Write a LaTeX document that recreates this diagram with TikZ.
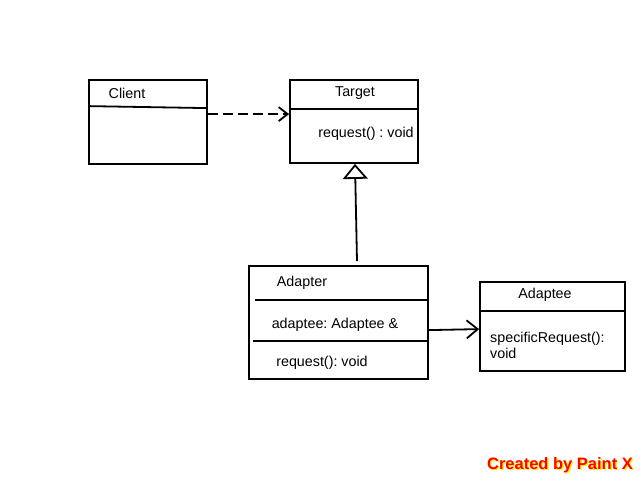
\documentclass[tikz,border=0pt]{standalone}
\usepackage{fontspec}
\setmainfont{Liberation Sans}
\usetikzlibrary{arrows.meta}
\frenchspacing
\begin{document}
\begin{tikzpicture}
            [
                x = 1pt, y = -1pt,
                every node/.style = {inner sep=0pt,
                font=\fontsize{14.3}{16.5}\selectfont},
                classbox/.style = {shape=rectangle, draw, line width=1.8pt},
                divider/.style  = {line width=1.8pt},
                depends/.style  = {line width=1.8pt, dash pattern=on 10pt off 5pt,
                -{Straight Barb[length=9pt, width=14pt]}},
                inherits/.style = {line width=1.8pt,
                -{Triangle[open, length=15pt, width=25pt]}},
                assoc/.style    = {line width=1.8pt,
                -{Straight Barb[length=11pt, width=18pt]}}
            ]
            \useasboundingbox (0,0) rectangle (640,480);
            % boxes
            \node [classbox, minimum width=118pt, minimum height=84pt] (client) at (148,122) {};
            \node [classbox, minimum width=128pt, minimum height=83pt] (target) at (354,121.5) {};
            \node [classbox, minimum width=179pt, minimum height=113pt] (adapter) at (338.5,322.5) {};
            \node [classbox, minimum width=145pt, minimum height=89pt] (adaptee) at (552.5,326.5) {};
            % compartments
            \draw [divider] ([yshift=-27pt]client.north west) -- ([yshift=-29pt]client.north east);
            \draw [divider] ([xshift=2pt, yshift=-30pt]target.north west) -- ([yshift=-30pt]target.north east);
            \draw [divider] ([xshift=7pt, yshift=-35pt]adapter.north west) -- ([xshift=-2pt, yshift=-35pt]adapter.north east);
            \draw [divider] ([xshift=5pt, yshift=-76pt]adapter.north west) -- ([yshift=-76pt]adapter.north east);
            \draw [divider] ([yshift=-30pt]adaptee.north west) -- ([yshift=-30pt]adaptee.north east);
            % texts
            \node (client name) at (127,93.5) {Client};
            \node (target name) at (355,93.5) {Target};
            \node (target op) at (366,133.5) {request() : void};
            \node (adapter name) at (302,282.5) {Adapter};
            \node (adapter attr) at (335,324.5) {adaptee: Adaptee \&};
            \node (adapter op) at (322,362.5) {request(): void};
            \node (adaptee name) at (545,294.5) {Adaptee};
            \node [anchor=west, align=left] (adaptee op) at (490,345.5) {specificRequest():\\void};
            % relations
            \draw [depends] ([yshift=-35pt]client.north east) -- ([yshift=-35pt]target.north west);
            \draw [inherits] ([xshift=18.5pt, yshift=4pt]adapter.north) -- ([xshift=1pt]target.south);
            \draw [assoc] ([yshift=-65pt]adapter.north east) -- ([yshift=-48pt]adaptee.north west);
            % watermark
            \node [font=\bfseries\fontsize{16.5}{18}\selectfont, text=yellow] (mark shadow) at (561.5,466.5) {Created by Paint X};
            \node [font=\bfseries\fontsize{16.5}{18}\selectfont, text=red] (mark) at (560,465) {Created by Paint X};
        \end{tikzpicture}
\end{document}
